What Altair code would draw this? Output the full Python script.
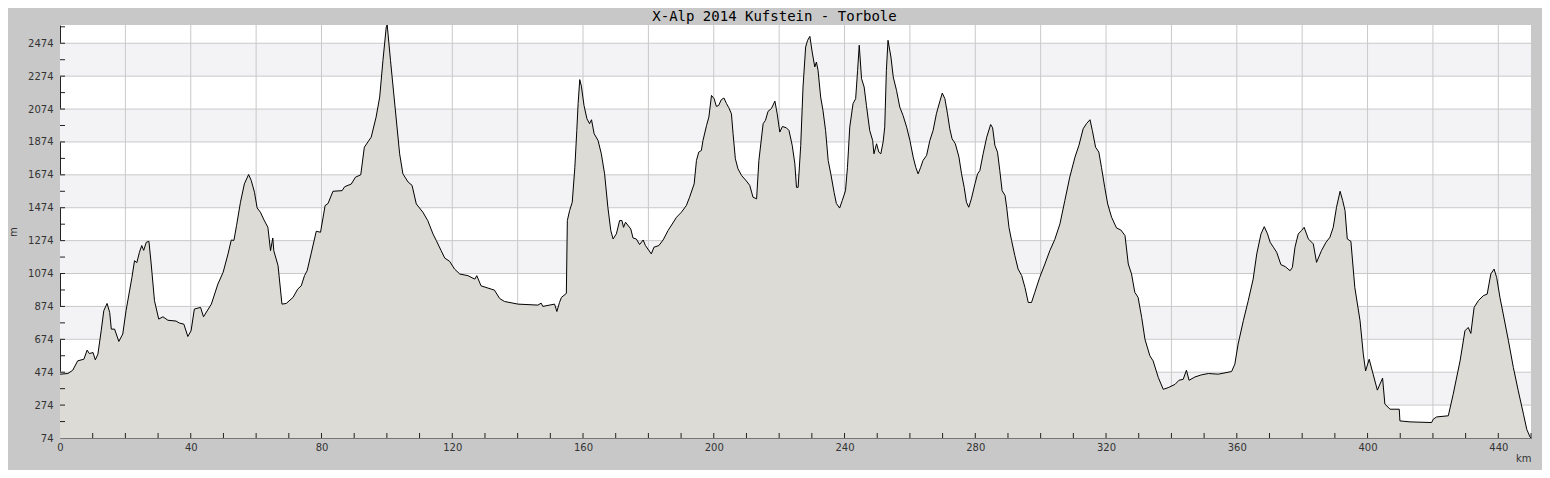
import altair as alt
import pandas as pd

TITLE = "X-Alp 2014 Kufstein - Torbole"

KM = [0, 2.4, 3.9, 5.4, 7.3, 8.3, 9.0, 10.1, 10.8, 11.6, 12.6, 13.4, 14.4, 15.2, 15.7, 16.7, 18.0, 19.2,
      20.2, 22.0, 22.8, 23.5, 24.3, 25.0, 25.6, 26.4, 27.2, 27.9, 28.9, 30.2, 31.5, 33.0, 35.5, 36.5, 37.9,
      39.1, 40.1, 41.1, 43.0, 43.9, 46.3, 48.3, 49.9, 51.4, 52.4, 53.2, 54.0, 55.2, 56.4, 57.7, 58.5, 59.5,
      60.3, 61.3, 62.4, 63.6, 64.4, 65.1, 65.4, 66.7, 67.9, 69.2, 71.3, 72.7, 73.8, 74.8, 75.6, 76.8, 78.4,
      79.7, 81.1, 82.0, 83.5, 86.3, 87.1, 89.1, 90.4, 92.0, 93.1, 95.2, 96.7, 97.8, 98.8, 99.8, 100.1,
      101.1, 102.2, 103.9, 104.9, 106.5, 107.7, 109.0, 111.0, 112.5, 114.1, 115.1, 116.6, 117.7, 119.2,
      120.7, 122.3, 124.8, 126.9, 127.5, 128.8, 132.9, 134.5, 136.0, 140.1, 146.2, 147.2, 147.7, 151.3,
      152.0, 152.8, 153.4, 154.9, 155.2, 155.9, 156.7, 157.5, 158.1, 158.5, 159.0, 159.5, 160.3, 161.2,
      162.0, 162.6, 163.4, 164.6, 165.6, 166.6, 167.6, 168.5, 169.2, 170.2, 171.2, 171.9, 172.4, 173.0,
      174.6, 175.3, 176.3, 177.3, 178.4, 179.1, 180.9, 181.7, 183.2, 184.5, 186.0, 188.6, 190.1, 191.6,
      192.6, 194.0, 194.7, 195.4, 196.2, 196.7, 197.8, 198.5, 199.3, 200.1, 200.8, 201.5, 202.3, 203.1,
      203.9, 204.6, 205.4, 205.9, 206.6, 207.4, 208.5, 210.0, 211.0, 212.0, 213.1, 213.8, 215.1, 215.8,
      216.6, 217.6, 218.7, 219.4, 220.2, 221.0, 222.2, 223.0, 224.0, 224.8, 225.3, 225.8, 226.6, 227.3,
      228.1, 228.7, 229.4, 230.1, 230.9, 231.4, 231.9, 232.7, 233.4, 234.2, 235.0, 235.8, 236.8, 237.5,
      238.5, 239.3, 240.3, 240.9, 241.6, 242.6, 243.4, 244.0, 244.5, 245.2, 246.0, 246.7, 247.7, 248.6,
      249.0, 249.8, 250.5, 251.1, 251.8, 252.3, 252.8, 253.3, 254.2, 254.9, 255.9, 256.9, 257.9, 259.0,
      260.0, 261.0, 261.8, 262.5, 263.3, 264.0, 265.1, 266.1, 267.1, 268.1, 269.1, 269.9, 270.7, 271.5,
      272.2, 272.9, 273.9, 275.0, 275.8, 276.6, 277.3, 278.0, 278.8, 279.9, 280.7, 281.4, 282.4, 283.5,
      284.7, 285.3, 286.0, 286.8, 287.5, 288.2, 289.1, 289.6, 290.3, 291.1, 292.1, 293.1, 294.2, 295.2,
      296.2, 297.2, 298.2, 299.7, 301.3, 302.8, 304.3, 305.9, 307.4, 308.9, 310.5, 311.7, 313.0, 314.0,
      315.1, 315.8, 316.8, 317.8, 318.6, 319.6, 320.5, 321.7, 323.2, 324.5, 325.8, 326.8, 327.8, 328.8,
      329.8, 330.9, 331.9, 333.4, 334.4, 336.0, 337.5, 339.0, 341.1, 342.3, 343.6, 344.6, 345.4, 347.2,
      349.2, 351.3, 354.3, 358.4, 359.4, 360.4, 362.0, 363.5, 365.0, 366.1, 367.4, 368.4, 369.4, 370.2,
      371.2, 372.2, 373.5, 374.8, 376.3, 377.0, 377.8, 378.8, 379.8, 380.6, 381.9, 383.4, 384.4, 385.9,
      387.3, 388.5, 389.5, 390.5, 391.6, 392.4, 393.1, 393.8, 394.9, 396.1, 397.7, 398.7, 399.4, 400.5,
      401.7, 403.0, 404.6, 405.3, 406.9, 409.7, 409.9, 413.0, 419.6, 420.1, 421.1, 424.7, 426.2, 428.3,
      429.8, 430.8, 431.6, 432.6, 433.9, 435.4, 436.6, 437.7, 438.7, 439.5, 440.5, 441.5, 443.1, 444.6,
      446.1, 447.7, 448.7, 449.7, 450.0]

ELEV = [462, 466, 486, 543, 553, 608, 587, 594, 549, 584, 726, 848, 892, 837, 736, 736, 661, 706,
        848, 1050, 1152, 1140, 1203, 1244, 1215, 1264, 1270, 1132, 909, 797, 811, 790, 785, 773, 766,
        691, 726, 858, 868, 811, 888, 1010, 1081, 1193, 1278, 1275, 1365, 1507, 1619, 1676, 1640, 1568,
        1473, 1447, 1400, 1355, 1213, 1290, 1213, 1122, 888, 892, 929, 979, 999, 1061, 1091, 1193, 1331,
        1325, 1487, 1500, 1574, 1578, 1602, 1618, 1660, 1674, 1842, 1903, 2025, 2147, 2370, 2573, 2585,
        2370, 2147, 1802, 1680, 1630, 1610, 1497, 1447, 1396, 1315, 1275, 1213, 1168, 1148,
        1101, 1071, 1061, 1040, 1061, 999, 973, 922, 904, 888, 882, 894, 874, 888,
        843, 898, 929, 953, 1396, 1457, 1507, 1720, 1944, 2107, 2253, 2213, 2096, 2015,
        1985, 2009, 1924, 1883, 1802, 1680, 1477, 1335, 1284, 1315, 1396, 1396, 1355, 1386,
        1345, 1290, 1284, 1250, 1278, 1244, 1193, 1234, 1244, 1278, 1335, 1416, 1447, 1487,
        1538, 1619, 1761, 1812, 1822, 1883, 1975, 2025, 2157, 2137, 2090, 2096, 2131, 2141,
        2107, 2082, 2045, 1924, 1772, 1711, 1670, 1636, 1610, 1538, 1528, 1761, 1985, 2005,
        2060, 2076, 2122, 2045, 1934, 1968, 1960, 1944, 1853, 1741, 1598, 1598, 1853, 2208,
        2451, 2492, 2516, 2421, 2330, 2360, 2309, 2147, 2066, 1944, 1761, 1680, 1568, 1500,
        1472, 1517, 1578, 1720, 1964, 2107, 2137, 2309, 2462, 2259, 2208, 2096, 1944, 1883,
        1802, 1863, 1812, 1802, 1873, 1964, 2309, 2492, 2390, 2269, 2188, 2086, 2035, 1964,
        1883, 1782, 1720, 1680, 1720, 1761, 1792, 1883, 1944, 2045, 2117, 2171, 2137, 2045,
        1954, 1893, 1863, 1782, 1680, 1598, 1507, 1477, 1528, 1619, 1680, 1700, 1802, 1903,
        1980, 1960, 1853, 1812, 1700, 1578, 1548, 1477, 1355, 1275, 1183, 1101, 1061, 989,
        898, 898, 959, 1050, 1132, 1213, 1280, 1376, 1518, 1660, 1782, 1853, 1954, 1985,
        2009, 1944, 1842, 1812, 1720, 1598, 1497, 1416, 1351, 1339, 1305, 1132, 1071, 960,
        929, 807, 675, 574, 543, 441, 370, 380, 400, 425, 431, 486, 425, 445,
        458, 466, 462, 478, 523, 645, 787, 909, 1040, 1193, 1315, 1359, 1315, 1264,
        1234, 1203, 1128, 1116, 1091, 1111, 1234, 1315, 1335, 1355, 1284, 1254, 1142, 1213,
        1264, 1295, 1355, 1477, 1574, 1517, 1457, 1284, 1270, 990, 787, 584, 482, 553,
        462, 365, 438, 280, 249, 249, 178, 172, 168, 188, 202, 209, 340, 543,
        726, 746, 710, 868, 909, 939, 949, 1071, 1101, 1050, 929, 828, 665, 503,
        361, 219, 127, 80, 74]

X_LABELS = list(range(0, 441, 40))
X_GRID = list(range(20, 441, 20))
X_MINOR = list(range(10, 451, 10))
Y_LABELS = list(range(74, 2475, 200))
Y_MINOR = list(range(174, 2575, 100))
BAND_LO = [274, 674, 1074, 1474, 1874, 2274]
BAND_HI = [474, 874, 1274, 1674, 2074, 2474]

W, H = 1471, 413
X_DOMAIN = [0, 450]
Y_DOMAIN = [74, 2585]

profile = pd.DataFrame({"km": KM, "m": ELEV})
bands = pd.DataFrame({"lo": BAND_LO, "hi": BAND_HI})
xgrid = pd.DataFrame({"km": X_GRID})
ygrid = pd.DataFrame({"m": Y_LABELS})
xminor = pd.DataFrame({"km": X_MINOR})
yminor = pd.DataFrame({"m": Y_MINOR})

xs = alt.Scale(domain=X_DOMAIN, nice=False, zero=False)
ys = alt.Scale(domain=Y_DOMAIN, nice=False, zero=False)

xaxis = alt.Axis(values=X_LABELS, grid=False, ticks=False, labelPadding=4, title="km", format="d",
                 titleAnchor="end", titleAlign="right", titleBaseline="top", titlePadding=1,
                 titleFontWeight="normal", titleFontSize=10, titleFont="DejaVu Sans",
                 titleColor="#333333", labelFlush=False)
yaxis = alt.Axis(values=Y_LABELS, grid=False, ticks=False, labelPadding=7, title="m", format="d",
                 titleFontWeight="normal", titleFontSize=10, titleFont="DejaVu Sans",
                 titleColor="#333333", titlePadding=9, labelFlush=False)


def X(field):
    return alt.X(field, type="quantitative", scale=xs, axis=xaxis, title="km")


def Y(field):
    return alt.Y(field, type="quantitative", scale=ys, axis=yaxis, title="m")


band_layer = alt.Chart(bands).mark_rect(color="#f3f2f5").encode(
    y=Y("lo"), y2="hi", x=alt.value(0), x2=alt.value(W))
vgrid_layer = alt.Chart(xgrid).mark_rule(color="#c9c9c9", strokeWidth=1).encode(x=X("km"))
hgrid_layer = alt.Chart(ygrid).mark_rule(color="#c9c9c9", strokeWidth=1).encode(y=Y("m"))
area_layer = alt.Chart(profile).mark_area(
    color="#dcdbd6", opacity=1, line={"color": "#000000", "strokeWidth": 1, "opacity": 1}, clip=True
).encode(x=X("km"), y=Y("m"))
xtick_layer = alt.Chart(xminor).mark_rule(color="#222222", strokeWidth=1).encode(
    x=X("km"), y=alt.value(H - 5), y2=alt.value(H))
ytick_layer = alt.Chart(yminor).mark_rule(color="#222222", strokeWidth=1).encode(
    y=Y("m"), x=alt.value(0), x2=alt.value(5))

chart = alt.layer(band_layer, vgrid_layer, hgrid_layer, area_layer, xtick_layer, ytick_layer).properties(
    width=W, height=H,
    autosize=alt.AutoSizeParams(type="none"),
    padding={"left": 52, "top": 17, "right": 11, "bottom": 32},
    background="#c8c8c8",
    title=alt.TitleParams(TITLE, font="DejaVu Sans Mono", fontSize=14, fontWeight="normal",
                          color="#000000", anchor="middle", frame="group", dx=-21, offset=0, dy=-1),
).configure_view(stroke=None, fill="#ffffff").configure_axis(
    labelFont="DejaVu Sans", labelFontSize=10, labelColor="#333333",
    domainColor="#222222", domainWidth=1,
)

chart.save("out.html", embed_options={"renderer": "svg", "actions": False})
